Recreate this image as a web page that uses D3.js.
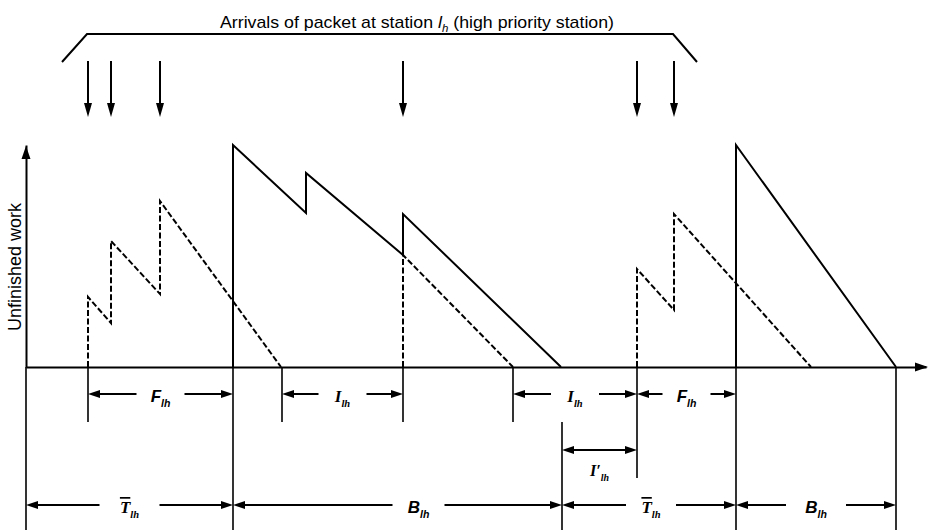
<!DOCTYPE html>
<html>
<head>
<meta charset="utf-8">
<script src="https://cdn.jsdelivr.net/npm/d3@7"></script>
<style>
  html, body { margin: 0; padding: 0; background: #fff; }
  svg { display: block; }
</style>
</head>
<body>
<svg id="chart" width="928" height="530"></svg>
<script>
// ---------------- data (time units along the x axis, work units along y) ----------------
const arrivalTimes = [62, 85, 134, 377, 611, 648];          // packet arrivals at station l_h
const lowWorkDashedA = [[62, 0], [62, 70], [85, 44], [85, 126], [134, 73], [134, 166], [255, 0]];
const highWorkSolidA = [[207, 0], [207, 222], [280, 154], [280, 194], [377, 112], [377, 153], [535, 0]];
const lowWorkDashedB = [[377, 0], [377, 112], [487, 0]];
const lowWorkDashedC = [[611, 0], [611, 98], [648, 57], [648, 153], [785, 0]];
const highWorkSolidB = [[710, 0], [710, 222], [870, 0]];
const bracketTimes = [36, 61, 647, 671];

const row1Intervals = [[62, 207], [256, 377], [487, 611], [611, 710]];
const row1Symbols = ["F", "I", "I", "F"];
const row2Intervals = [[536, 611]];
const row2Symbols = ["I′"];
const row3Intervals = [[0, 207], [207, 536], [536, 710], [710, 870]];
const row3Symbols = ["T", "B", "T", "B"];
const subscriptText = "lh";

const titleText = ["Arrivals of packet at station ", "l", "h", " (high priority station)"];
const yAxisLabel = "Unfinished work";

// ---------------- layout ----------------
const svg = d3.select("#chart");
const x = d3.scaleLinear().domain([0, 900]).range([26, 926]);
const y = d3.scaleLinear().domain([0, 222]).range([367, 145]);
const baseY = y(0);
const row1Y = 394, row2Y = 450, row3Y = 505;
const ext = { short: 422, mid: 478, long: 532 };

function arrowHead(g, tx, ty, dir, len = 12, hw = 4) {
  let p;
  if (dir === "right") p = [[tx, ty], [tx - len, ty - hw], [tx - len, ty + hw]];
  if (dir === "left") p = [[tx, ty], [tx + len, ty - hw], [tx + len, ty + hw]];
  if (dir === "down") p = [[tx, ty], [tx - hw, ty - len], [tx + hw, ty - len]];
  if (dir === "up") p = [[tx, ty], [tx - hw, ty + len], [tx + hw, ty + len]];
  g.append("path").attr("d", "M" + p.map(d => d.join(",")).join("L") + "Z").attr("fill", "#000");
}

const line = d3.line().x(d => x(d[0])).y(d => y(d[1]));
const gMain = svg.append("g");

// axes (no ticks)
const xAxisG = gMain.append("g").attr("transform", `translate(0,${baseY})`)
  .call(d3.axisBottom(x).tickValues([]).tickSizeOuter(0));
xAxisG.select(".domain").attr("stroke", "#000").attr("stroke-width", 2);
gMain.append("line").attr("x1", x(900)).attr("x2", 916).attr("y1", baseY).attr("y2", baseY)
  .attr("stroke", "#000").attr("stroke-width", 2);
arrowHead(gMain, 928, baseY, "right", 13, 4.5);

const yAxisG = gMain.append("g").attr("transform", `translate(${x(0)},0)`)
  .call(d3.axisLeft(y).tickValues([]).tickSizeOuter(0));
yAxisG.select(".domain").attr("stroke", "#000").attr("stroke-width", 2);
arrowHead(gMain, x(0), y(222) + 1, "up", 13, 4.5);

// y axis label
gMain.append("text")
  .attr("transform", `translate(21,267) rotate(-90)`)
  .attr("text-anchor", "middle")
  .attr("font-family", "Liberation Sans, Arial, sans-serif")
  .attr("font-size", 18)
  .text(yAxisLabel);

// work curves
const dashStyle = "6,2.5";
[lowWorkDashedA, lowWorkDashedB, lowWorkDashedC].forEach(s => {
  gMain.append("path").attr("d", line(s)).attr("fill", "none").attr("stroke", "#000")
    .attr("stroke-width", 2).attr("stroke-dasharray", dashStyle).attr("stroke-linejoin", "miter");
});
[highWorkSolidA, highWorkSolidB].forEach(s => {
  gMain.append("path").attr("d", line(s)).attr("fill", "none").attr("stroke", "#000")
    .attr("stroke-width", 2).attr("stroke-linejoin", "miter");
});

// arrival arrows
arrivalTimes.forEach(t => {
  gMain.append("line").attr("x1", x(t)).attr("x2", x(t)).attr("y1", 61).attr("y2", 106)
    .attr("stroke", "#000").attr("stroke-width", 2);
  arrowHead(gMain, x(t), 117, "down", 14, 4);
});

// bracket
const bracketY = [62, 34, 34, 62];
gMain.append("path")
  .attr("d", d3.line()(bracketTimes.map((t, i) => [x(t), bracketY[i]])))
  .attr("fill", "none").attr("stroke", "#000").attr("stroke-width", 2);

// title
const title = gMain.append("text").attr("x", 220).attr("y", 28)
  .attr("font-family", "Liberation Sans, Arial, sans-serif").attr("font-size", 17)
  .attr("textLength", 394).attr("lengthAdjust", "spacingAndGlyphs");
title.append("tspan").text(titleText[0]);
title.append("tspan").attr("font-style", "italic").text(titleText[1]);
title.append("tspan").attr("font-size", 11).attr("dy", 4).attr("font-style", "italic").text(titleText[2]);
title.append("tspan").attr("dy", -4).text(titleText[3]);

// extension lines below the axis
const extensionLines = [
  [0, baseY, ext.long], [62, baseY, ext.short], [207, baseY, ext.long], [256, baseY, ext.short],
  [377, baseY, ext.short], [487, baseY, ext.short], [536, ext.short, ext.long], [611, baseY, ext.mid],
  [710, baseY, ext.long], [870, baseY, ext.long]
];
extensionLines.forEach(([t, y1, y2]) => {
  gMain.append("line").attr("x1", x(t)).attr("x2", x(t)).attr("y1", y1).attr("y2", y2)
    .attr("stroke", "#000").attr("stroke-width", 1.6);
});

// labels
function symbolLabel(g, cx, by, sym, size) {
  const serif = (sym[0] === "I" || sym[0] === "T");
  const t = g.append("text").attr("x", cx).attr("y", by).attr("text-anchor", "middle")
    .attr("font-family", serif ? "Liberation Serif, Times New Roman, serif" : "Liberation Sans, Arial, sans-serif")
    .attr("font-weight", "bold").attr("font-style", "italic").attr("font-size", size);
  const main = t.append("tspan").text(sym);
  if (sym === "T") main.attr("text-decoration", "overline");
  t.append("tspan").attr("font-size", size * 0.62).attr("dy", 5).text(subscriptText);
}

function dimension(g, [t0, t1], yy, sym, half, shift, labelY, size) {
  const x0 = x(t0), x1 = x(t1);
  const cx = (x0 + x1) / 2 + shift;
  g.append("line").attr("x1", x0 + 10).attr("x2", cx - half).attr("y1", yy).attr("y2", yy)
    .attr("stroke", "#000").attr("stroke-width", 2);
  g.append("line").attr("x1", cx + half).attr("x2", x1 - 10).attr("y1", yy).attr("y2", yy)
    .attr("stroke", "#000").attr("stroke-width", 2);
  arrowHead(g, x0, yy, "left", 12, 4);
  arrowHead(g, x1, yy, "right", 12, 4);
  symbolLabel(g, cx, labelY, sym, size);
}

row1Intervals.forEach((iv, i) => dimension(gMain, iv, row1Y, row1Symbols[i], 24, 0, row1Y + 8, 17));
const row3Shift = [0, 21, 2, 0];
const row3Half = [30, 26, 25, 30];
row3Intervals.forEach((iv, i) => dimension(gMain, iv, row3Y, row3Symbols[i], row3Half[i], row3Shift[i], row3Y + 8, 17));

// row 2: full double arrow with label underneath
row2Intervals.forEach((iv, i) => {
  const x0 = x(iv[0]), x1 = x(iv[1]);
  gMain.append("line").attr("x1", x0 + 10).attr("x2", x1 - 10).attr("y1", row2Y).attr("y2", row2Y)
    .attr("stroke", "#000").attr("stroke-width", 2);
  arrowHead(gMain, x0, row2Y, "left", 12, 4);
  arrowHead(gMain, x1, row2Y, "right", 12, 4);
  symbolLabel(gMain, (x0 + x1) / 2, 476, row2Symbols[i], 16);
});
</script>
</body>
</html>
